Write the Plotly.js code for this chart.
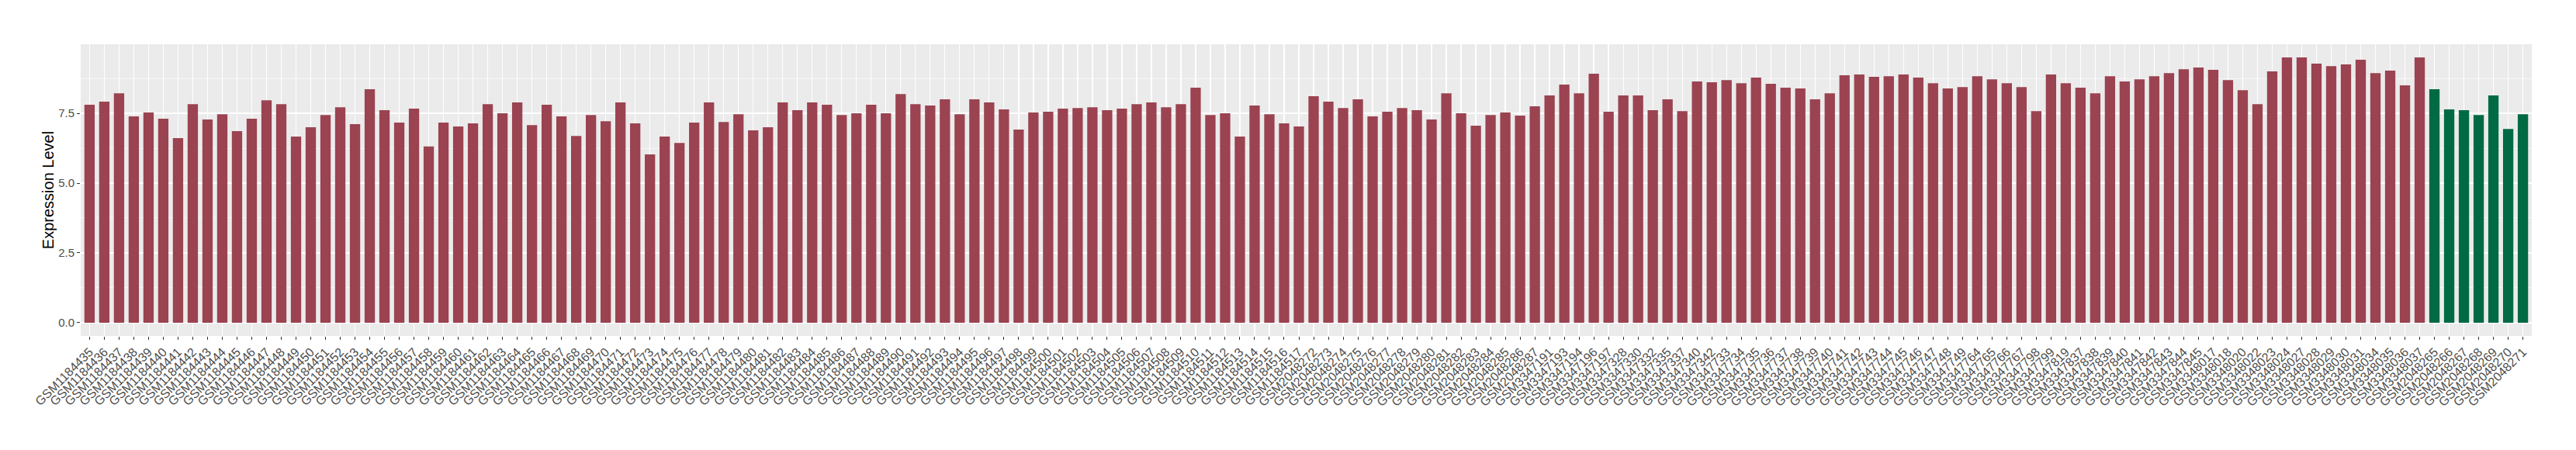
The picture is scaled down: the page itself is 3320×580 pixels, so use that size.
<!DOCTYPE html>
<html>
<head>
<meta charset="utf-8">
<script src="https://cdn.plot.ly/plotly-3.0.1.min.js"></script>
<style>html,body{margin:0;padding:0;background:#fff;}#chart{width:3320px;height:580px;}</style>
</head>
<body>
<div id="chart"></div>
<script>
const tumorSamples = [
"GSM1184435","GSM1184436","GSM1184437","GSM1184438","GSM1184439","GSM1184440","GSM1184441","GSM1184442","GSM1184443","GSM1184444",
"GSM1184445","GSM1184446","GSM1184447","GSM1184448","GSM1184449","GSM1184450","GSM1184451","GSM1184452","GSM1184453","GSM1184454",
"GSM1184455","GSM1184456","GSM1184457","GSM1184458","GSM1184459","GSM1184460","GSM1184461","GSM1184462","GSM1184463","GSM1184464",
"GSM1184465","GSM1184466","GSM1184467","GSM1184468","GSM1184469","GSM1184470","GSM1184471","GSM1184472","GSM1184473","GSM1184474",
"GSM1184475","GSM1184476","GSM1184477","GSM1184478","GSM1184479","GSM1184480","GSM1184481","GSM1184482","GSM1184483","GSM1184484",
"GSM1184485","GSM1184486","GSM1184487","GSM1184488","GSM1184489","GSM1184490","GSM1184491","GSM1184492","GSM1184493","GSM1184494",
"GSM1184495","GSM1184496","GSM1184497","GSM1184498","GSM1184499","GSM1184500","GSM1184501","GSM1184502","GSM1184503","GSM1184504",
"GSM1184505","GSM1184506","GSM1184507","GSM1184508","GSM1184509","GSM1184510","GSM1184511","GSM1184512","GSM1184513","GSM1184514",
"GSM1184515","GSM1184516","GSM1184517",
"GSM2048272","GSM2048273","GSM2048274","GSM2048275","GSM2048276","GSM2048277","GSM2048278","GSM2048279","GSM2048280","GSM2048281",
"GSM2048282","GSM2048283","GSM2048284","GSM2048285","GSM2048286","GSM2048287",
"GSM3347191","GSM3347193","GSM3347194","GSM3347196","GSM3347197","GSM3347328","GSM3347330","GSM3347332","GSM3347335","GSM3347337",
"GSM3347340","GSM3347342","GSM3347733","GSM3347734","GSM3347735","GSM3347736","GSM3347737","GSM3347738","GSM3347739","GSM3347740",
"GSM3347741","GSM3347742","GSM3347743","GSM3347744","GSM3347745","GSM3347746","GSM3347747","GSM3347748","GSM3347749","GSM3347764",
"GSM3347765","GSM3347766","GSM3347767","GSM3347798","GSM3347799","GSM3347819","GSM3347837","GSM3347838","GSM3347839","GSM3347840",
"GSM3347841","GSM3347842","GSM3347843","GSM3347844","GSM3347845",
"GSM3348017","GSM3348018","GSM3348020","GSM3348022","GSM3348023","GSM3348024","GSM3348027","GSM3348028","GSM3348029","GSM3348030",
"GSM3348031","GSM3348034","GSM3348035","GSM3348036","GSM3348037"
];
const tumorValues = [
7.81,7.92,8.22,7.39,7.53,7.31,6.61,7.83,7.28,7.47,
6.86,7.31,7.97,7.83,6.67,7.00,7.44,7.72,7.11,8.36,
7.61,7.17,7.67,6.31,7.17,7.03,7.14,7.83,7.50,7.89,
7.08,7.81,7.39,6.69,7.44,7.22,7.89,7.14,6.03,6.67,
6.44,7.17,7.89,7.19,7.47,6.89,7.00,7.89,7.61,7.89,
7.81,7.44,7.50,7.81,7.50,8.19,7.83,7.78,8.00,7.47,
8.00,7.89,7.64,6.92,7.53,7.56,7.67,7.69,7.72,7.61,
7.67,7.83,7.89,7.72,7.83,8.42,7.44,7.50,6.67,7.78,
7.47,7.14,7.03,8.11,7.92,7.69,8.00,7.39,7.56,7.69,
7.61,7.28,8.22,7.50,7.06,7.44,7.53,7.42,7.75,8.14,
8.53,8.22,8.92,7.56,8.14,8.14,7.61,8.00,7.58,8.64,
8.61,8.69,8.58,8.78,8.56,8.42,8.39,8.00,8.22,8.86,
8.89,8.81,8.83,8.89,8.78,8.58,8.39,8.44,8.83,8.72,
8.58,8.44,7.58,8.89,8.58,8.42,8.22,8.83,8.64,8.72,
8.83,8.94,9.08,9.14,9.06,8.69,8.33,7.83,9.00,9.50,
9.50,9.28,9.19,9.25,9.42,8.94,9.03,8.50,9.50
];
const normalSamples = ["GSM2048265","GSM2048266","GSM2048267","GSM2048268","GSM2048269","GSM2048270","GSM2048271"];
const normalValues = [8.36,7.64,7.61,7.44,8.14,6.94,7.47];
const yTicks = [0, 2.5, 5, 7.5];
const yTickLabels = ["0.0", "2.5", "5.0", "7.5"];

const allSamples = tumorSamples.concat(normalSamples);
const FONT = "Liberation Sans, Arial, Helvetica, sans-serif";

const traces = [
  {type: "bar", x: tumorSamples, y: tumorValues, width: 0.7,
   marker: {color: "#9B4351", line: {width: 0}}, showlegend: false, hoverinfo: "x+y"},
  {type: "bar", x: normalSamples, y: normalValues, width: 0.7,
   marker: {color: "#006A44", line: {width: 0}}, showlegend: false, hoverinfo: "x+y"}
];

const layout = {
  width: 3320, height: 580,
  margin: {l: 104, r: 57, t: 57, b: 147, pad: 0},
  paper_bgcolor: "#FFFFFF",
  plot_bgcolor: "#EBEBEB",
  barmode: "overlay",
  showlegend: false,
  font: {family: FONT, color: "#4D4D4D", size: 15},
  xaxis: {
    type: "category",
    categoryorder: "array",
    categoryarray: allSamples,
    range: [-0.6, allSamples.length - 1 + 0.6],
    tickangle: -45,
    ticks: "outside", ticklen: 4, tickwidth: 1, tickcolor: "#333333",
    showgrid: true, gridcolor: "#FFFFFF", gridwidth: 1.3,
    zeroline: false, showline: false,
    tickfont: {family: FONT, size: 16, color: "#4D4D4D"},
    automargin: false
  },
  yaxis: {
    range: [-0.475, 9.975],
    tickmode: "array", tickvals: yTicks, ticktext: yTickLabels,
    ticks: "outside", ticklen: 4, tickwidth: 1, tickcolor: "#333333",
    showgrid: true, gridcolor: "#FFFFFF", gridwidth: 1.3,
    minor: {tickmode: "array", tickvals: [1.25, 3.75, 6.25, 8.75], showgrid: true, gridcolor: "#FFFFFF", gridwidth: 0.6, ticks: ""},
    zeroline: false, showline: false,
    tickfont: {family: FONT, size: 15, color: "#4D4D4D"},
    title: {text: "Expression Level", font: {family: FONT, size: 20, color: "#000000"}, standoff: 0},
    automargin: false
  }
};

Plotly.newPlot("chart", traces, layout, {staticPlot: true, displayModeBar: false});
</script>
</body>
</html>
